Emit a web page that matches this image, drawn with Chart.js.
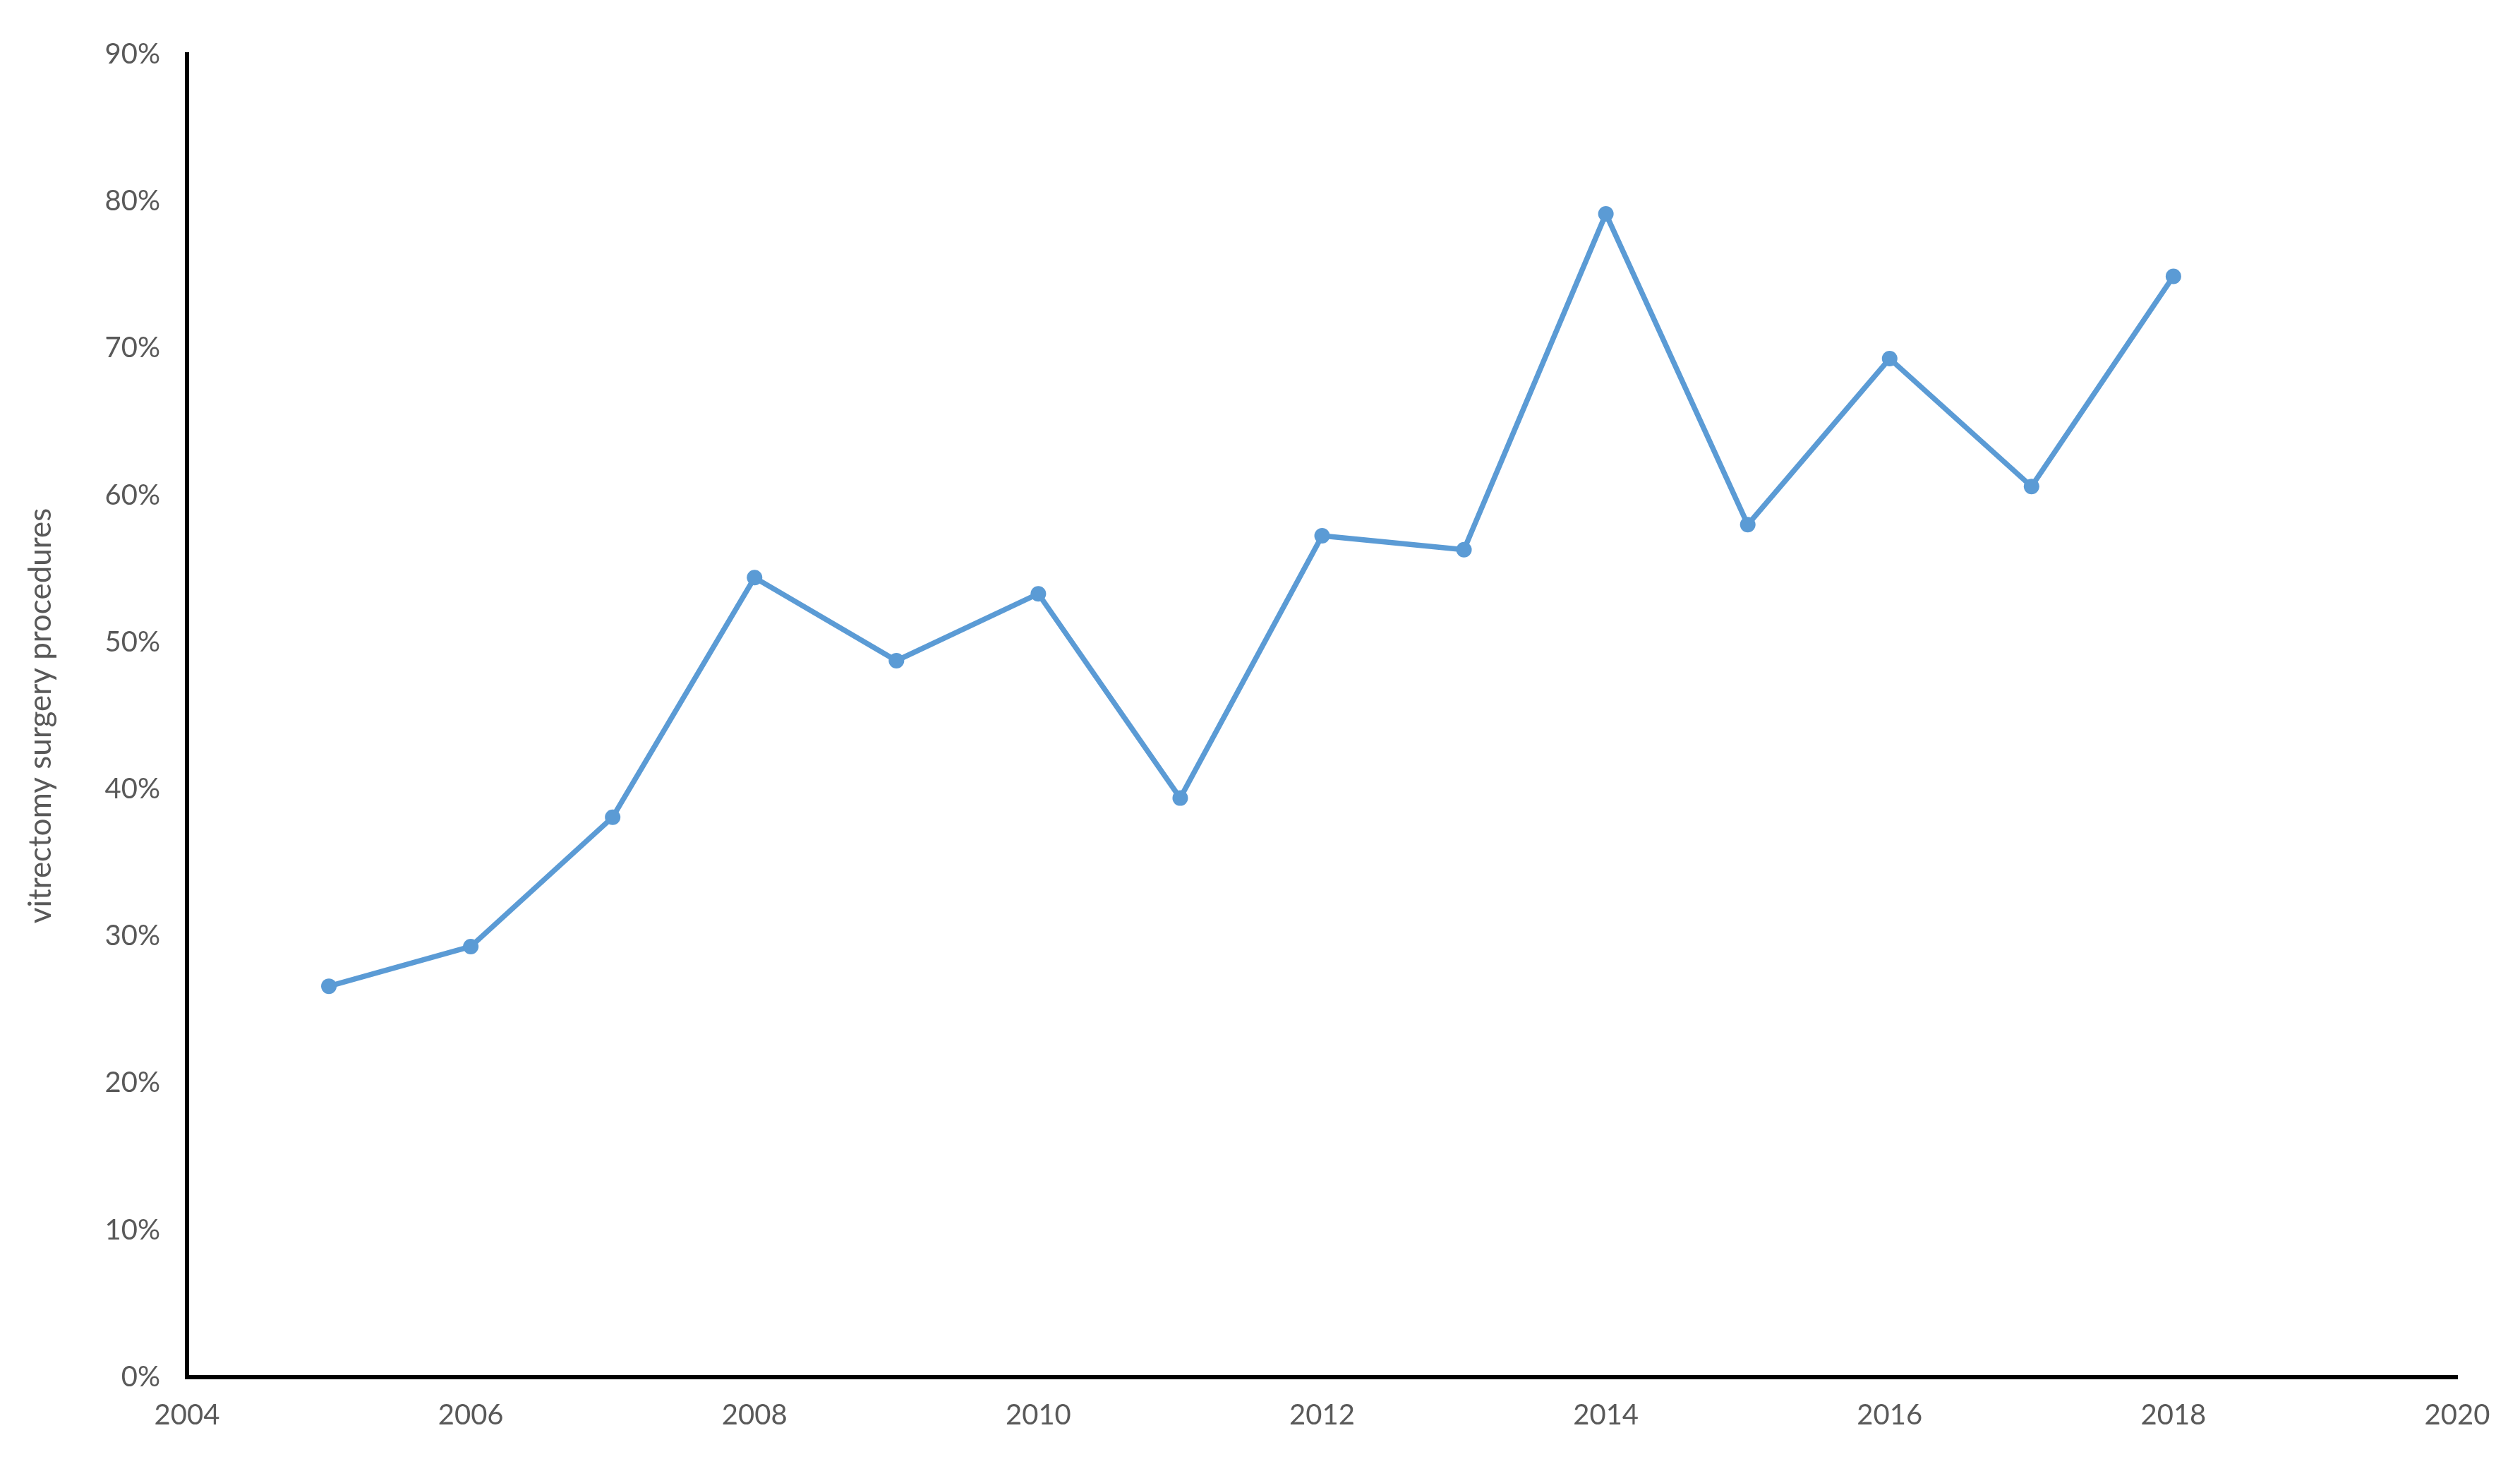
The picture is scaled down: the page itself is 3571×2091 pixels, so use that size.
<!DOCTYPE html>
<html>
<head>
<meta charset="utf-8">
<script src="https://cdn.jsdelivr.net/npm/chart.js@4/dist/chart.umd.min.js"></script>
<style>
  html, body { margin: 0; padding: 0; background: #ffffff; }
  #wrap { width: 3571px; height: 2091px; }
</style>
</head>
<body>
<div id="wrap"><canvas id="c" width="3571" height="2091"></canvas></div>
<script>
const years = [2005, 2006, 2007, 2008, 2009, 2010, 2011, 2012, 2013, 2014, 2015, 2016, 2017, 2018];
const shares = [26.6, 29.3, 38.1, 54.4, 48.75, 53.3, 39.4, 57.25, 56.3, 79.15, 58.0, 69.3, 60.6, 74.9];
const xTicks = [2004, 2006, 2008, 2010, 2012, 2014, 2016, 2018, 2020];
const yTicks = [0, 10, 20, 30, 40, 50, 60, 70, 80, 90];
const yTitle = 'vitrectomy surgery procedures';

const points = years.map((y, i) => ({ x: y, y: shares[i] }));
const tickFont = { family: 'Lato, "Open Sans", sans-serif', size: 40 };
const grey = '#595959';

new Chart(document.getElementById('c'), {
  type: 'line',
  data: {
    datasets: [{
      data: points,
      borderColor: '#5B9BD5',
      backgroundColor: '#5B9BD5',
      borderWidth: 7.5,
      pointRadius: 11,
      pointBorderWidth: 0,
      pointBackgroundColor: '#5B9BD5',
      tension: 0,
      fill: false
    }]
  },
  options: {
    responsive: false,
    animation: false,
    devicePixelRatio: 1,
    layout: { padding: { left: 20, top: 77, right: 89, bottom: 0 } },
    plugins: { legend: { display: false }, tooltip: { enabled: false } },
    scales: {
      x: {
        type: 'linear',
        min: xTicks[0],
        max: xTicks[xTicks.length - 1],
        afterBuildTicks: (s) => { s.ticks = xTicks.map(v => ({ value: v })); },
        afterFit: (s) => { s.height = 140; },
        grid: { display: false, drawTicks: false },
        border: { display: true, color: '#000000', width: 6 },
        ticks: {
          color: grey,
          font: tickFont,
          padding: 30,
          maxRotation: 0,
          autoSkip: false,
          callback: (v) => String(v)
        }
      },
      y: {
        type: 'linear',
        min: yTicks[0],
        max: yTicks[yTicks.length - 1],
        afterBuildTicks: (s) => { s.ticks = yTicks.map(v => ({ value: v })); },
        afterFit: (s) => { s.width = 245; },
        grid: { display: false, drawTicks: false },
        border: { display: true, color: '#000000', width: 6 },
        ticks: {
          color: grey,
          font: tickFont,
          padding: 38,
          autoSkip: false,
          callback: (v) => v + '%'
        },
        title: {
          display: true,
          text: yTitle,
          color: grey,
          font: { family: 'Lato, "Open Sans", sans-serif', size: 44 },
          padding: { top: 11, bottom: 0 }
        }
      }
    }
  }
});
</script>
</body>
</html>
